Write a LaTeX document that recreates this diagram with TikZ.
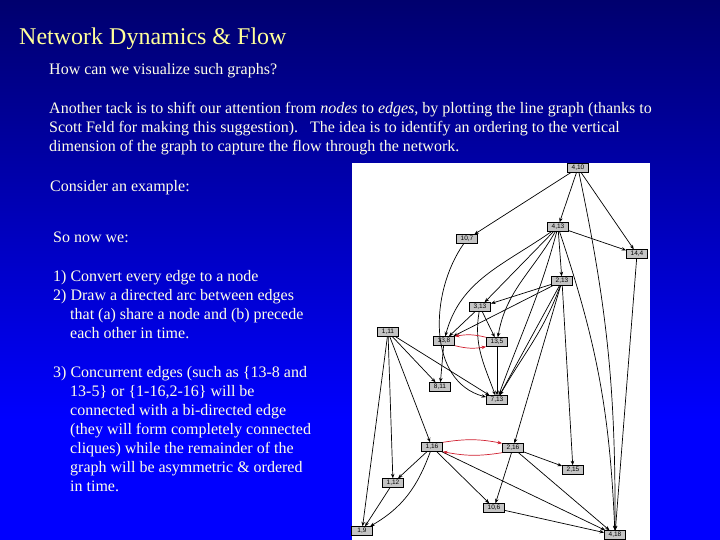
\documentclass[tikz,border=0pt]{standalone}
\usepackage{fontspec}
\setmainfont{Liberation Serif}
\newfontfamily\gfont{Liberation Sans}
\usetikzlibrary{arrows.meta}
\definecolor{bgtop}{HTML}{00006E}
\definecolor{bgbot}{HTML}{0000FF}
\definecolor{titlec}{HTML}{FFFF99}
\definecolor{textc}{HTML}{FFFFE8}
\definecolor{boxc}{HTML}{C4C4C4}
\definecolor{redc}{HTML}{D02030}
\begin{document}
\begin{tikzpicture}[x=1pt,y=1pt,
  txt/.style={anchor=base west, inner sep=0pt, text=textc, font=\fontsize{16}{19}\selectfont},
  gn/.style={draw=black, fill=boxc, line width=0.9pt, inner sep=0.5pt, minimum width=21pt, minimum height=8.5pt, font=\gfont\fontsize{6.5}{6.5}\selectfont},
  e/.style={-{Stealth[length=4.5pt,width=3.5pt]}, line width=0.7pt, black},
  re/.style={-{Stealth[length=4.5pt,width=3.5pt]}, line width=0.7pt, redc}]
\useasboundingbox (0,0) rectangle (720,-540);
\shade[top color=bgtop, bottom color=bgbot] (0,0) rectangle (720,-420);
\fill[bgbot] (0,-420) rectangle (720,-540);
% title and text
\node[txt, text=titlec, font=\fontsize{24}{28}\selectfont] (title) at (19,-45) {Network Dynamics \& Flow};
\node[txt] (t1) at (49,-75) {How can we visualize such graphs?};
\node[txt] (t2) at (49,-114) {Another tack is to shift our attention from \textit{nodes} to \textit{edges}, by plotting the line graph (thanks to};
\node[txt] (t3) at (49,-133) {Scott Feld for making this suggestion).\ \ \ The idea is to identify an ordering to the vertical};
\node[txt] (t4) at (49,-152) {dimension of the graph to capture the flow through the network.};
\node[txt] (t5) at (50,-192) {Consider an example:};
\node[txt] (t6) at (53,-243) {So now we:};
\node[txt] (t7) at (53,-281) {1) Convert every edge to a node};
\node[txt] (t8) at (53,-300) {2) Draw a directed arc between edges};
\node[txt] (t9) at (70,-319) {that (a) share a node and (b) precede};
\node[txt] (t10) at (70,-338) {each other in time.};
\node[txt] (t11) at (53,-377) {3) Concurrent edges (such as \{13-8 and};
\node[txt] (t12) at (70,-396) {13-5\} or \{1-16,2-16\} will be};
\node[txt] (t13) at (70,-415) {connected with a bi-directed edge};
\node[txt] (t14) at (70,-434) {(they will form completely connected};
\node[txt] (t15) at (70,-453) {cliques) while the remainder of the};
\node[txt] (t16) at (70,-472) {graph will be asymmetric \& ordered};
\node[txt] (t17) at (70,-491) {in time.};
% graph panel
\fill[white] (352,-163) rectangle (650,-540);
\node[gn] (n410) at (578,-168) {4,10};
\node[gn] (n413) at (558,-227) {4,13};
\node[gn] (n107) at (467,-239) {10,7};
\node[gn] (n144) at (637,-254) {14,4};
\node[gn] (n213) at (562,-281) {2,13};
\node[gn] (n313) at (480,-307) {3,13};
\node[gn] (n111) at (388,-332) {1,11};
\node[gn] (n138) at (444,-341) {13,8};
\node[gn] (n135) at (497,-342) {13,5};
\node[gn] (n811) at (440,-387) {8,11};
\node[gn] (n713) at (497,-400) {7,13};
\node[gn] (n116) at (432,-447) {1,16};
\node[gn] (n216) at (513,-448) {2,16};
\node[gn] (n215) at (573,-470) {2,15};
\node[gn] (n112) at (393,-483) {1,12};
\node[gn] (n106) at (494,-508) {10,6};
\node[gn] (n19) at (362,-531) {1,9};
\node[gn] (n418) at (615,-535) {4,18};
% edges
\draw[e] (n410) -- (n107);
\draw[e] (n410) -- (n413);
\draw[e] (n410) -- (n144);
\draw[e] (n410) to[bend left=6] (n418);
\draw[e] (n413) -- (n144);
\draw[e] (n413) -- (n213);
\draw[e] (n413) to[bend left=8] (n418);
\draw[e] (n144) -- (n418);
\draw[e] (n413) -- (n313);
\draw[e] (n413) to[out=215,in=75] (n138);
\draw[e] (n413) to[out=240,in=80] (n135);
\draw[e] (n413) to[out=255,in=70] (n713);
\draw[e] (n107) to[out=235,in=165] (n713);
\draw[e] (n213) -- (n313);
\draw[e] (n213) -- (n138);
\draw[e] (n213) -- (n713);
\draw[e] (n213) to[out=250,in=60] (n713);
\draw[e] (n213) -- (n215);
\draw[e] (n213) -- (n216);
\draw[e] (n313) -- (n138);
\draw[e] (n313) -- (n135);
\draw[e] (n313) to[out=260,in=110] (n713);
\draw[e] (n138) -- (n811);
\draw[e] (n135) -- (n713);
\draw[e] (n111) -- (n811);
\draw[e] (n111) -- (n713);
\draw[e] (n111) -- (n19);
\draw[e] (n111) -- (n112);
\draw[e] (n111) -- (n116);
\draw[e] (n116) -- (n112);
\draw[e] (n116) to[out=250,in=30] (n19);
\draw[e] (n112) -- (n19);
\draw[e] (n116) -- (n106);
\draw[e] (n116) -- (n418);
\draw[e] (n216) -- (n106);
\draw[e] (n216) -- (n215);
\draw[e] (n216) -- (n418);
\draw[e] (n106) -- (n418);
% bi-directed
\draw[re] (n135.north west) to[bend right=12] (n138.north east);
\draw[re] (n138.south east) to[bend right=12] (n135.south west);
\draw[re] (n116.north east) to[bend left=10] (n216.north west);
\draw[re] (n216.south west) to[bend left=10] (n116.south east);
\end{tikzpicture}
\end{document}
